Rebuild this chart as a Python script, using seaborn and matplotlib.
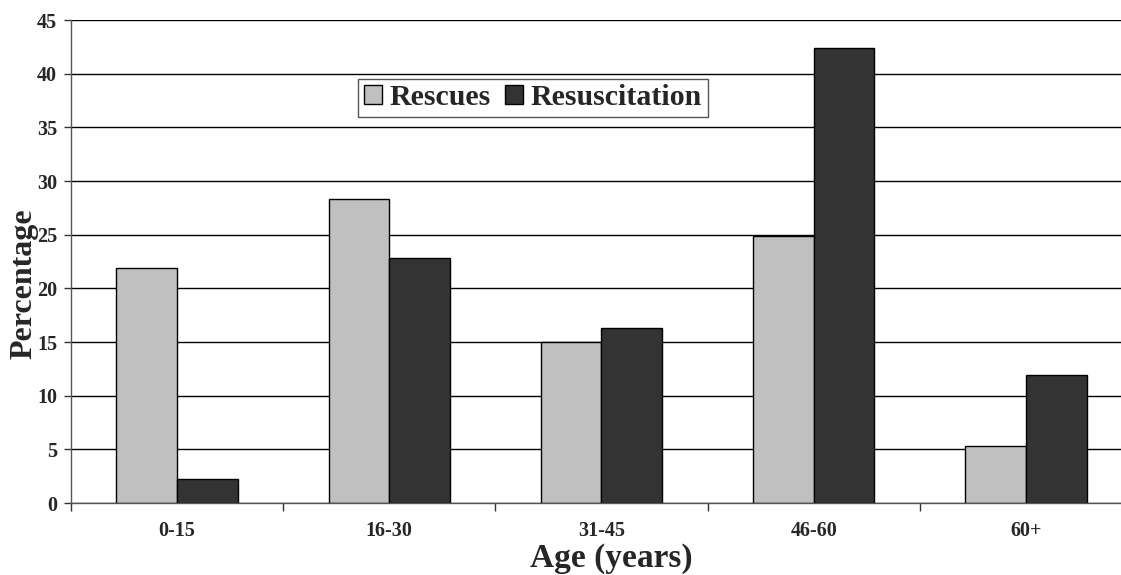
import matplotlib
matplotlib.use("Agg")
import matplotlib.pyplot as plt
import seaborn as sns
import pandas as pd

# Age groups and the share (%) of each outcome in them
age_groups = ["0-15", "16-30", "31-45", "46-60", "60+"]
rescues = [21.9, 28.3, 15.0, 24.9, 5.3]
resuscitation = [2.2, 22.8, 16.3, 42.4, 11.9]
series_names = ["Rescues", "Resuscitation"]
y_ticks = [0, 5, 10, 15, 20, 25, 30, 35, 40, 45]

df = pd.DataFrame({
    "age": age_groups * 2,
    "value": rescues + resuscitation,
    "series": [series_names[0]] * len(age_groups) + [series_names[1]] * len(age_groups),
})

sns.set_theme(style="white")
plt.rcParams["font.family"] = ["Liberation Serif", "DejaVu Serif"]
plt.rcParams["font.weight"] = "bold"

fig = plt.figure(figsize=(11.21, 5.75), dpi=100)
ax = fig.add_axes([0.0633, 0.1252, 0.9465, 0.84])

sns.barplot(
    data=df, x="age", y="value", hue="series", hue_order=series_names,
    palette={"Rescues": "#c0c0c0", "Resuscitation": "#333333"},
    width=0.572, gap=0, edgecolor="black", linewidth=1.0,
    saturation=1, errorbar=None, ax=ax,
)

ax.set_ylim(0, 45)
ax.set_yticks(y_ticks)
ax.set_xlim(-0.5, len(age_groups) - 0.5)
ax.yaxis.grid(True, color="black", linewidth=1.0)
ax.xaxis.grid(False)
ax.set_axisbelow(True)

for side in ["top", "right"]:
    ax.spines[side].set_visible(False)
ax.spines["left"].set_color("#555555")
ax.spines["bottom"].set_color("#555555")
ax.spines["left"].set_linewidth(1.0)
ax.spines["bottom"].set_linewidth(1.0)

# category separators as outward tick marks on the x axis
ax.set_xticks([i - 0.5 for i in range(len(age_groups) + 1)], minor=True)
ax.tick_params(axis="x", which="minor", length=6, width=1, color="#333333", direction="out", bottom=True)
ax.tick_params(axis="x", which="major", length=0, pad=13, labelsize=14.5)
ax.tick_params(axis="y", which="major", length=5, width=1, color="#333333", direction="out", left=True, pad=5, labelsize=14.5)
for lbl in ax.get_xticklabels() + ax.get_yticklabels():
    lbl.set_fontweight("bold")

ax.set_xlabel("Age (years)", fontsize=24, fontweight="bold")
ax.set_ylabel("Percentage", fontsize=23, fontweight="bold")
ax.xaxis.set_label_coords(0.509, -0.083)
ax.yaxis.set_label_coords(-0.031, 0.455)

handles, labels = ax.get_legend_handles_labels()
leg = ax.legend(
    handles, labels, ncol=2, loc="center",
    bbox_to_anchor=(533 / 1121, 1 - 98 / 575), bbox_transform=fig.transFigure,
    prop={"family": "Liberation Serif", "weight": "bold", "size": 21.5},
    frameon=True, fancybox=False, edgecolor="#555555", framealpha=1,
    handlelength=0.6, handleheight=0.6, handletextpad=0.25, columnspacing=0.5,
    borderpad=0.2, borderaxespad=0,
)
leg.get_frame().set_linewidth(1.0)

fig.savefig("out.png", dpi=100)
